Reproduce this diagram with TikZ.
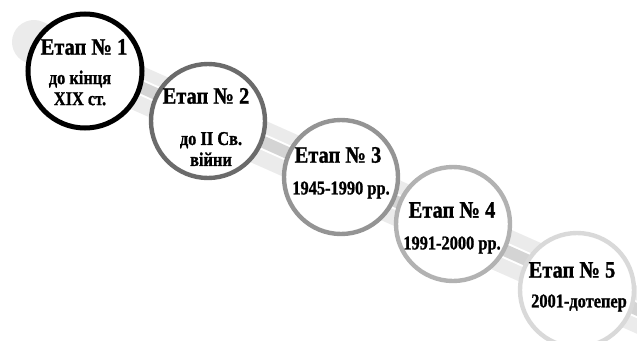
\documentclass[tikz,border=0pt]{standalone}
\usepackage{fontspec}
\setmainfont{Liberation Serif}[BoldFeatures={FakeBold=1.2}]
\begin{document}
\begin{tikzpicture}[x=1pt,y=-1pt,
  stage/.style={circle,draw,fill=white,line width=4.4pt,minimum size=114pt,inner sep=0pt},
  title/.style={font=\fontsize{23.5}{25}\selectfont\bfseries,inner sep=0pt,xscale=0.87},
  sub/.style={font=\fontsize{19.5}{21}\selectfont\bfseries,inner sep=0pt,align=center,xscale=0.84},
  bandouter/.style={line width=44pt,line cap=round,draw=black!8},
  bandgap/.style={line width=16pt,draw=white},
  bandinner/.style={line width=12pt,draw=black!17}]
\useasboundingbox (0,0) rectangle (637,340);
\clip (0,0) rectangle (637,340);

% diagonal band behind the stages
\coordinate (bs) at (34,42);
\coordinate (bm) at (80,59.9);
\coordinate (be) at (700,337.7);
\draw[bandouter] (bs) -- (be);
\draw[bandgap] (bm) -- (be);
\draw[bandinner] (bm) -- (be);

% stage circles
\node[stage,draw=black,line width=5pt] (c1) at (85,71)  {};
\node[stage,draw=black!58] (c2) at (208,121) {};
\node[stage,draw=black!42] (c3) at (341,177) {};
\node[stage,draw=black!30] (c4) at (453,224) {};
\node[stage,draw=black!15] (c5) at (577,290) {};

% labels
\node[title] (t1) at (84,47)  {Етап № 1};
\node[sub]   (s1) at (80,88)  {до кінця\\XIX ст.};
\node[title] (t2) at (206,96) {Етап № 2};
\node[sub]   (s2) at (211,149) {до II Св.\\війни};
\node[title] (t3) at (338,155) {Етап № 3};
\node[sub]   (s3) at (341,190) {1945-1990 рр.};
\node[title] (t4) at (452,210) {Етап № 4};
\node[sub]   (s4) at (452,245) {1991-2000 рр.};
\node[title] (t5) at (572,270) {Етап № 5};
\node[sub]   (s5) at (579,303) {2001-дотепер};
\end{tikzpicture}
\end{document}
